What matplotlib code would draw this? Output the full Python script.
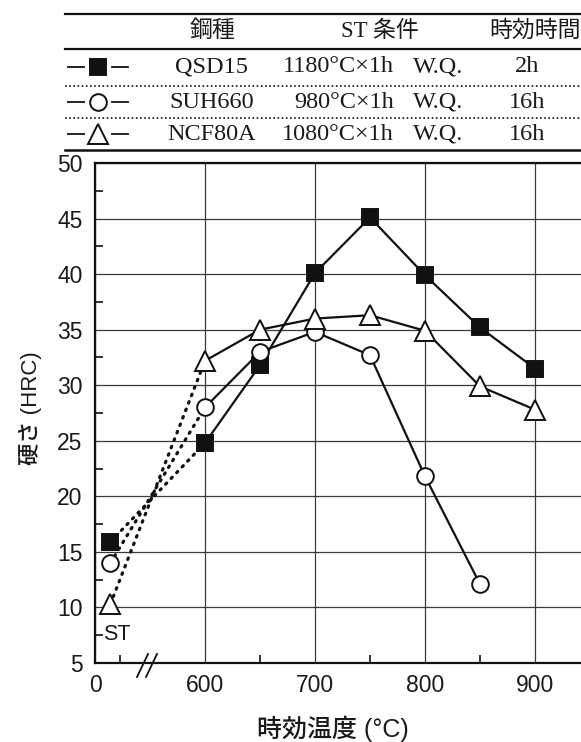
import matplotlib
matplotlib.use("Agg")
import matplotlib.pyplot as plt
from matplotlib.lines import Line2D
from matplotlib.ticker import FixedLocator

# ---------------- data ----------------
temps = [600, 650, 700, 750, 800, 850, 900]
qsd15 = [24.8, 31.8, 40.1, 45.1, 39.9, 35.2, 31.5]
suh660 = [28.0, 33.0, 34.8, 32.7, 21.8, 12.1]
ncf80a = [32.2, 35.0, 36.0, 36.3, 34.9, 29.9, 27.8]
st_values = {"QSD15": 15.9, "SUH660": 14.0, "NCF80A": 10.3}
st_pos = 514  # position of the solution-treated ("ST") state on the broken axis

x_tick_pos = [500, 600, 700, 800, 900]
x_tick_labels = ["0", "600", "700", "800", "900"]
y_ticks = [5, 10, 15, 20, 25, 30, 35, 40, 45, 50]

table_header = ["鋼種", "ST 条件", "時効時間"]
steels = ["QSD15", "SUH660", "NCF80A"]
st_temp = ["1180°C×1h", "980°C×1h", "1080°C×1h"]
st_quench = ["W.Q.", "W.Q.", "W.Q."]
aging_time = ["2h", "16h", "16h"]

# ---------------- figure ----------------
W, H = 581, 742
fig = plt.figure(figsize=(W / 100, H / 100), dpi=100)
fig.patch.set_facecolor("white")

def fx(px):
    return px / W

def fy(py):
    return 1 - py / H

ax = fig.add_axes([fx(95), fy(663), fx(581) - fx(95), fy(163) - fy(663)])
ax.set_xlim(500, 500 + 486 / 1.1)
ax.set_ylim(5, 50)

black = "#111111"
grid_c = "#3a3a3a"
tcol = "#1a1a1a"

ax.xaxis.set_major_locator(FixedLocator(x_tick_pos))
ax.set_xticklabels(x_tick_labels)
ax.xaxis.set_minor_locator(FixedLocator([523, 650, 750, 850]))
ax.yaxis.set_major_locator(FixedLocator(y_ticks))
ax.yaxis.set_minor_locator(FixedLocator([v + 2.5 for v in y_ticks[:-1]]))
ax.tick_params(which="both", direction="in", color=black, width=1.2,
               labelsize=16.5, labelcolor=tcol, top=False, right=False)
ax.tick_params(which="major", length=0)
ax.tick_params(axis="x", which="major", pad=8)
ax.tick_params(axis="y", which="major", pad=9)
ax.tick_params(which="minor", length=6)
for lab in ax.get_xticklabels() + ax.get_yticklabels():
    lab.set_family("Liberation Sans")

ax.grid(True, which="major", color=grid_c, lw=0.9)
ax.set_axisbelow(True)
for s in ["left", "bottom", "top"]:
    ax.spines[s].set_color(black)
    ax.spines[s].set_linewidth(1.6)
ax.spines["right"].set_visible(False)

mk = dict(markeredgecolor=black, markeredgewidth=1.4, zorder=4, clip_on=False)
lw = 1.6
# solid lines
ax.plot(temps, qsd15, color=black, lw=lw, marker="s", markersize=12,
        markerfacecolor=black, **mk)
ax.plot(temps[:len(suh660)], suh660, color=black, lw=lw, marker="o",
        markersize=12, markerfacecolor="white", **mk)
ax.plot(temps, ncf80a, color=black, lw=lw, marker="^", markersize=14,
        markerfacecolor="white", **mk)

# dotted links from ST to 600
dot = dict(color=black, lw=2.3, linestyle=(0, (0.5, 2.0)), dash_capstyle="round", zorder=3)
ax.plot([st_pos, temps[0]], [st_values["QSD15"], qsd15[0]], **dot)
ax.plot([st_pos, temps[0]], [st_values["SUH660"], suh660[0]], **dot)
ax.plot([st_pos, temps[0]], [st_values["NCF80A"], ncf80a[0]], **dot)

# ST markers
ax.plot([st_pos], [st_values["QSD15"]], marker="s", markersize=12,
        markerfacecolor=black, linestyle="none", **mk)
ax.plot([st_pos], [st_values["SUH660"]], marker="o", markersize=12,
        markerfacecolor="white", linestyle="none", **mk)
ax.plot([st_pos], [st_values["NCF80A"]], marker="^", markersize=14,
        markerfacecolor="white", linestyle="none", **mk)

ax.text(507, 7.6, "ST", fontsize=15.5, family="Liberation Sans", color=tcol,
        ha="left", va="center", zorder=5)

# axis break marks "//"
for dx in (0, 9):
    fig.add_artist(Line2D([fx(137 + dx), fx(148 + dx)], [fy(677), fy(654)],
                          color=black, lw=1.3))

fig.text(fx(30), fy(408), "硬さ (HRC)", family=["Liberation Sans", "Noto Sans CJK JP"],
         fontsize=16, color=tcol, rotation=90, ha="center", va="center",
         fontweight="medium")
fig.text(fx(333), fy(729), "時効温度 (°C)", family=["Liberation Sans", "Noto Sans CJK JP"],
         fontsize=18, color=tcol, ha="center", va="center", fontweight="medium")

# ---------------- table ----------------
def hline(y, lw_, style="-"):
    fig.add_artist(Line2D([fx(65), fx(581)], [fy(y), fy(y)], color=black,
                          lw=lw_, linestyle=style))

hline(14, 1.6)
hline(49, 1.6)
hline(86, 1.2, (0, (1, 1.5)))
hline(118, 1.2, (0, (1, 1.5)))
hline(150, 1.8)

serif = ["Liberation Serif", "Noto Sans CJK JP"]
fs = 17.5
hfs = 16.5
fig.text(fx(212), fy(31), table_header[0], family=serif, fontsize=hfs,
         ha="center", va="center", color=tcol)
fig.text(fx(380), fy(31), table_header[1], family=serif, fontsize=hfs,
         ha="center", va="center", color=tcol)
fig.text(fx(489), fy(31), table_header[2], family=serif, fontsize=hfs,
         ha="left", va="center", color=tcol)

row_y = [67, 102, 134]
markers = [("s", black, 12), ("o", "white", 12), ("^", "white", 14)]
for i, y in enumerate(row_y):
    fig.add_artist(Line2D([fx(68), fx(84)], [fy(y), fy(y)], color=black, lw=1.3))
    fig.add_artist(Line2D([fx(112), fx(128)], [fy(y), fy(y)], color=black, lw=1.3))
    m, fc, ms = markers[i]
    fig.add_artist(Line2D([fx(98)], [fy(y)], marker=m, markersize=ms,
                          markerfacecolor=fc, markeredgecolor=black,
                          markeredgewidth=1.4, linestyle="none"))
    fig.text(fx(212), fy(y), steels[i], family=serif, fontsize=fs,
             ha="center", va="center", color=tcol)
    fig.text(fx(394), fy(y), st_temp[i], family=serif, fontsize=fs,
             ha="right", va="center", color=tcol)
    fig.text(fx(413), fy(y), st_quench[i], family=serif, fontsize=fs,
             ha="left", va="center", color=tcol)
    fig.text(fx(527), fy(y), aging_time[i], family=serif, fontsize=fs,
             ha="center", va="center", color=tcol)

fig.savefig("out.png", dpi=100, facecolor="white")
